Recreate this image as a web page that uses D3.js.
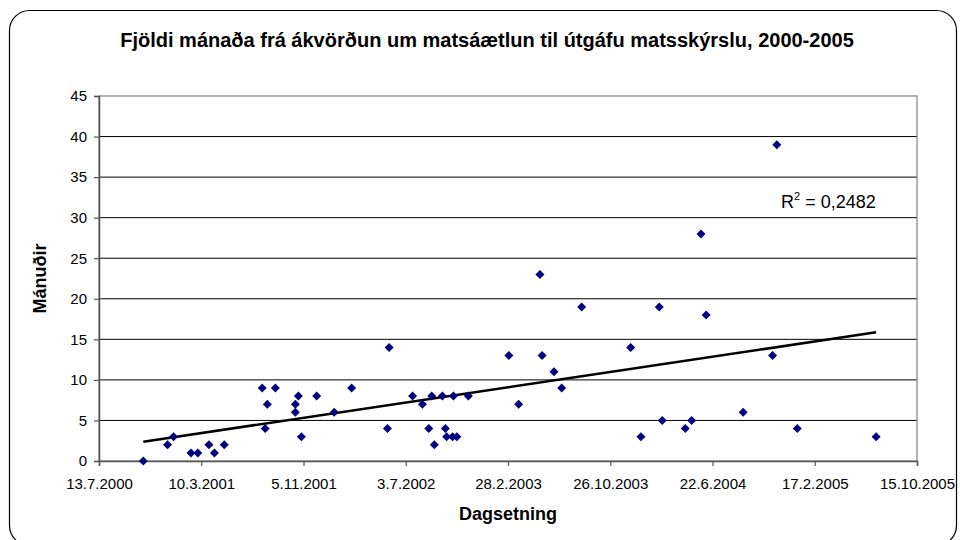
<!DOCTYPE html>
<html>
<head>
<meta charset="utf-8">
<script src="https://cdn.jsdelivr.net/npm/d3@7"></script>
<style>
  html, body { margin: 0; padding: 0; background: #fff; }
  svg { display: block; font-family: "Liberation Sans", Arial, sans-serif; }
</style>
</head>
<body>
<svg id="chart" width="960" height="540"></svg>
<script>
// ---- Data ----
const title = "Fjöldi mánaða frá ákvörðun um matsáætlun til útgáfu matsskýrslu, 2000-2005";
const xTitle = "Dagsetning";
const yTitle = "Mánuðir";
const rSquaredLabel = "0,2482";

const dates = [
  "2000-10-25","2000-12-21","2001-01-04","2001-02-14","2001-03-02","2001-03-28","2001-04-10","2001-05-03",
  "2001-07-31","2001-08-07","2001-08-12","2001-08-31","2001-10-17","2001-10-17","2001-10-24","2001-10-31",
  "2001-12-06","2002-01-16","2002-02-26","2002-05-21","2002-05-25","2002-07-19","2002-08-11","2002-08-26",
  "2002-09-02","2002-09-08","2002-09-27","2002-10-04","2002-10-07","2002-10-23","2002-10-21","2002-10-31",
  "2002-11-27","2003-03-02","2003-03-25","2003-05-14","2003-05-19","2003-06-16","2003-07-04","2003-08-20",
  "2003-12-13","2004-01-06","2004-02-18","2004-02-25","2004-04-19","2004-05-04","2004-05-26","2004-06-07",
  "2004-09-02","2004-11-10","2004-11-20","2005-01-07","2005-07-11"
];
const months = [
  0, 2, 3, 1, 1, 2, 1, 2,
  9, 4, 7, 9, 7, 6, 8, 3,
  8, 6, 9, 4, 14, 8, 7, 4,
  8, 2, 8, 4, 3, 8, 3, 3,
  8, 13, 7, 23, 13, 11, 9, 19,
  14, 3, 19, 5, 4, 5, 28, 18,
  6, 13, 39, 4, 3
];
const xTickLabels = ["13.7.2000","10.3.2001","5.11.2001","3.7.2002","28.2.2003","26.10.2003","22.6.2004","17.2.2005","15.10.2005"];
const yTickValues = [0,5,10,15,20,25,30,35,40,45];

// ---- Setup ----
const parseISO = d3.utcParse("%Y-%m-%d");
const parseTick = d3.utcParse("%d.%m.%Y");
const fmtTick = d3.utcFormat("%-d.%-m.%Y");
const points = dates.map((d, i) => ({ date: parseISO(d), value: months[i] }));
const xTicks = xTickLabels.map(parseTick);

const svg = d3.select("#chart");
const margin = { left: 99, right: 917, top: 96, bottom: 461 };

const x = d3.scaleUtc()
  .domain([xTicks[0], xTicks[xTicks.length - 1]])
  .range([margin.left, margin.right]);
const y = d3.scaleLinear()
  .domain([0, 45])
  .range([margin.bottom, margin.top]);

// outer rounded frame
svg.append("rect")
  .attr("x", 9.5).attr("y", 10.5)
  .attr("width", 947).attr("height", 535)
  .attr("rx", 20).attr("ry", 20)
  .attr("fill", "#fff").attr("stroke", "#000").attr("stroke-width", 1.2);

// title
svg.append("text")
  .attr("x", 487).attr("y", 47)
  .attr("text-anchor", "middle")
  .attr("font-size", 20).attr("font-weight", "bold")
  .text(title);

// gridlines
svg.append("g").selectAll("line")
  .data(yTickValues.filter(v => v > 0 && v < 45))
  .join("line")
  .attr("x1", margin.left).attr("x2", margin.right)
  .attr("y1", d => y(d)).attr("y2", d => y(d))
  .attr("stroke", "#000").attr("stroke-width", 1);

// plot area border
svg.append("rect")
  .attr("x", margin.left).attr("y", y(45))
  .attr("width", margin.right - margin.left).attr("height", y(0) - y(45))
  .attr("fill", "none").attr("stroke", "#808080").attr("stroke-width", 1.2);

// axes
const yAxis = svg.append("g")
  .attr("transform", `translate(${margin.left},0)`)
  .call(d3.axisLeft(y).tickValues(yTickValues).tickSize(5).tickPadding(7));
const xAxis = svg.append("g")
  .attr("transform", `translate(0,${margin.bottom})`)
  .call(d3.axisBottom(x).tickValues(xTicks).tickFormat(fmtTick).tickSize(5).tickPadding(12));
[yAxis, xAxis].forEach(g => {
  g.select(".domain").attr("stroke", "#555").attr("stroke-width", 1.5);
  g.selectAll(".tick line").attr("stroke", "#555").attr("stroke-width", 1.2);
  g.selectAll(".tick text").attr("fill", "#000").attr("font-size", 15)
    .attr("font-family", '"Liberation Sans", Arial, sans-serif');
});

// trendline (least squares linear regression on the data)
const xs = points.map(p => +p.date), ys = points.map(p => p.value);
const mx = d3.mean(xs), my = d3.mean(ys);
const slope = d3.sum(xs.map((v, i) => (v - mx) * (ys[i] - my))) / d3.sum(xs.map(v => (v - mx) ** 2));
const intercept = my - slope * mx;
const [x0, x1] = d3.extent(xs);
svg.append("line")
  .attr("x1", x(new Date(x0))).attr("y1", y(intercept + slope * x0))
  .attr("x2", x(new Date(x1))).attr("y2", y(intercept + slope * x1))
  .attr("stroke", "#000").attr("stroke-width", 2.6);

// markers
const r = 4.5;
svg.append("g").selectAll("path")
  .data(points)
  .join("path")
  .attr("transform", d => `translate(${x(d.date)},${y(d.value)})`)
  .attr("d", `M0,${-r}L${r},0L0,${r}L${-r},0Z`)
  .attr("fill", "#000080");

// R^2 label
const rl = svg.append("text")
  .attr("x", 781).attr("y", 208)
  .attr("font-size", 18);
rl.append("tspan").text("R");
rl.append("tspan").attr("font-size", 11).attr("dy", -8).text("2");
rl.append("tspan").attr("dy", 8).text(" = " + rSquaredLabel);

// axis titles
svg.append("text")
  .attr("x", (margin.left + margin.right) / 2).attr("y", 520)
  .attr("text-anchor", "middle")
  .attr("font-size", 18).attr("font-weight", "bold")
  .text(xTitle);
svg.append("text")
  .attr("transform", `translate(46,${(margin.top + margin.bottom) / 2}) rotate(-90)`)
  .attr("text-anchor", "middle")
  .attr("font-size", 18).attr("font-weight", "bold")
  .text(yTitle);
</script>
</body>
</html>
